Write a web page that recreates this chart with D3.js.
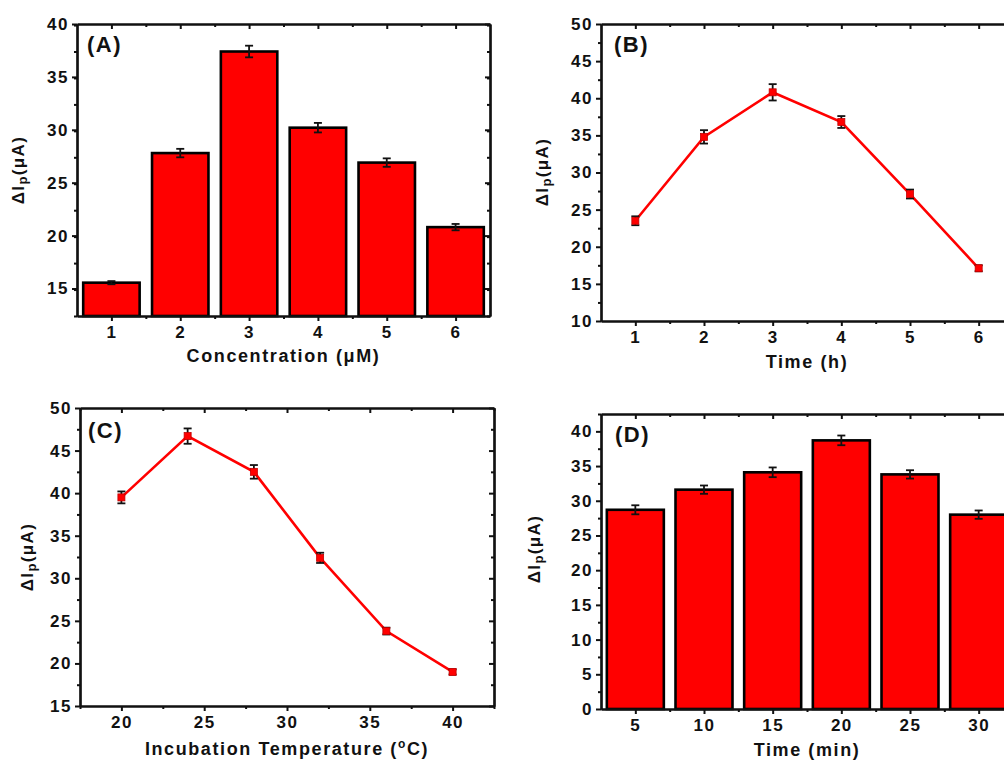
<!DOCTYPE html>
<html>
<head>
<meta charset="utf-8">
<script src="https://cdn.jsdelivr.net/npm/d3@7"></script>
<style>
  html, body { margin: 0; padding: 0; background: #fff; }
  svg { display: block; }
  text { font-family: "Liberation Sans", Arial, sans-serif; font-weight: bold; fill: #111; }
</style>
</head>
<body>
<svg id="chart" width="1004" height="762"></svg>
<script>
// ---------- data ----------
// (A) concentration
const concLabels = ["1", "2", "3", "4", "5", "6"];
const concValues = [15.55, 27.8, 37.4, 30.2, 26.9, 20.8];
const concErrors = [0.15, 0.4, 0.55, 0.45, 0.4, 0.3];
// (B) time (h)
const timeHours = [1, 2, 3, 4, 5, 6];
const timeValues = [23.5, 34.8, 40.8, 36.8, 27.1, 17.1];
const timeErrors = [0.6, 0.9, 1.1, 0.8, 0.6, 0.4];
// (C) incubation temperature
const tempC = [20, 24, 28, 32, 36, 40];
const tempValues = [39.5, 46.7, 42.5, 32.4, 23.8, 19.0];
const tempErrors = [0.7, 0.9, 0.8, 0.6, 0.4, 0.3];
// (D) time (min)
const minLabels = ["5", "10", "15", "20", "25", "30"];
const minValues = [28.7, 31.6, 34.1, 38.7, 33.8, 28.0];
const minErrors = [0.65, 0.6, 0.7, 0.7, 0.6, 0.6];

// tick labels
const yTicksA = [15, 20, 25, 30, 35, 40];
const yTicksB = [10, 15, 20, 25, 30, 35, 40, 45, 50];
const yTicksC = [15, 20, 25, 30, 35, 40, 45, 50];
const yTicksD = [0, 5, 10, 15, 20, 25, 30, 35, 40];
const xTicksC = [20, 25, 30, 35, 40];

const svg = d3.select("#chart");

function range(a, b, step) {
  const out = [];
  for (let v = a; v <= b + 1e-9; v += step) out.push(+v.toFixed(4));
  return out;
}

function panel(cfg) {
  const g = svg.append("g");
  const x = d3.scaleLinear().domain(cfg.xDomain).range([cfg.left, cfg.right]);
  const y = d3.scaleLinear().domain(cfg.yDomain).range([cfg.bottom, cfg.top]);

  // bars
  if (cfg.type === "bar") {
    const bw = x(cfg.barWidth) - x(0);
    g.selectAll("rect.bar").data(cfg.values).enter().append("rect")
      .attr("x", (d, i) => x(cfg.xs[i]) - bw / 2)
      .attr("y", d => y(d))
      .attr("width", bw)
      .attr("height", d => y(cfg.yDomain[0]) - y(d))
      .attr("fill", "#ff0000")
      .attr("stroke", "#000")
      .attr("stroke-width", 2.6);
  } else {
    const line = d3.line().x((d, i) => x(cfg.xs[i])).y(d => y(d));
    g.append("path").datum(cfg.values).attr("d", line)
      .attr("fill", "none").attr("stroke", "#ff0000").attr("stroke-width", 2.6);
  }

  // error bars
  const eb = g.selectAll("g.err").data(cfg.values).enter().append("g");
  eb.append("line")
    .attr("x1", (d, i) => x(cfg.xs[i])).attr("x2", (d, i) => x(cfg.xs[i]))
    .attr("y1", (d, i) => y(d - cfg.errors[i])).attr("y2", (d, i) => y(d + cfg.errors[i]))
    .attr("stroke", "#111").attr("stroke-width", 1.8);
  [-1, 1].forEach(s => {
    eb.append("line")
      .attr("x1", (d, i) => x(cfg.xs[i]) - 4).attr("x2", (d, i) => x(cfg.xs[i]) + 4)
      .attr("y1", (d, i) => y(d + s * cfg.errors[i])).attr("y2", (d, i) => y(d + s * cfg.errors[i]))
      .attr("stroke", "#111").attr("stroke-width", 1.8);
  });

  if (cfg.type === "line") {
    g.selectAll("rect.mk").data(cfg.values).enter().append("rect")
      .attr("x", (d, i) => x(cfg.xs[i]) - 3.5).attr("y", d => y(d) - 3.5)
      .attr("width", 7).attr("height", 7)
      .attr("fill", "#ff0000").attr("stroke", "#c00000").attr("stroke-width", 0.8);
  }

  const axStyle = sel => {
    sel.selectAll("path.domain").attr("stroke", "#111").attr("stroke-width", 2.2);
    sel.selectAll(".tick line").attr("stroke", "#111").attr("stroke-width", 2);
    sel.selectAll(".tick text").attr("font-size", 17).attr("letter-spacing", "1.5px")
      .attr("font-family", "'Liberation Sans', Arial, sans-serif").attr("font-weight", "bold").attr("fill", "#111");
  };

  // minor ticks
  const yMinor = range(cfg.yDomain[0], cfg.yDomain[1], cfg.yMinorStep).filter(v => !cfg.yTicks.includes(v));
  const xMinor = cfg.xMinor;

  // left axis
  g.append("g").attr("transform", `translate(${cfg.left},0)`)
    .call(d3.axisLeft(y).tickValues(yMinor).tickSize(3).tickSizeOuter(0).tickFormat(""))
    .call(axStyle);
  g.append("g").attr("transform", `translate(${cfg.left},0)`)
    .call(d3.axisLeft(y).tickValues(cfg.yTicks).tickSize(5).tickPadding(3).tickSizeOuter(0))
    .call(axStyle);
  // right axis (inward)
  g.append("g").attr("transform", `translate(${cfg.right},0)`)
    .call(d3.axisLeft(y).tickValues(cfg.yTicks).tickSize(5).tickSizeOuter(0).tickFormat(""))
    .call(axStyle);
  g.append("g").attr("transform", `translate(${cfg.right},0)`)
    .call(d3.axisLeft(y).tickValues(yMinor).tickSize(3).tickSizeOuter(0).tickFormat(""))
    .call(axStyle);
  // bottom axis
  g.append("g").attr("transform", `translate(0,${cfg.bottom})`)
    .call(d3.axisBottom(x).tickValues(xMinor).tickSize(3).tickSizeOuter(0).tickFormat(""))
    .call(axStyle);
  g.append("g").attr("transform", `translate(0,${cfg.bottom})`)
    .call(d3.axisBottom(x).tickValues(cfg.xTicks).tickSize(5).tickPadding(5).tickSizeOuter(0)
      .tickFormat((d, i) => cfg.xTickLabels[i]))
    .call(axStyle);
  // top axis (inward)
  g.append("g").attr("transform", `translate(0,${cfg.top})`)
    .call(d3.axisTop(x).tickValues(cfg.xTicks).tickSize(-5).tickSizeOuter(0).tickFormat(""))
    .call(axStyle);
  g.append("g").attr("transform", `translate(0,${cfg.top})`)
    .call(d3.axisTop(x).tickValues(xMinor).tickSize(-3).tickSizeOuter(0).tickFormat(""))
    .call(axStyle);

  // x title
  const xt = g.append("text")
    .attr("x", (cfg.left + cfg.right) / 2).attr("y", cfg.xTitleY)
    .attr("text-anchor", "middle").attr("font-size", 18).attr("letter-spacing", "1.6px");
  cfg.xTitle(xt);

  // y title
  const yt = g.append("text")
    .attr("transform", `translate(${cfg.yTitleX},${cfg.yTitleMid}) rotate(-90)`)
    .attr("text-anchor", "middle").attr("font-size", 17).attr("letter-spacing", "1.4px")
    .attr("font-family", cfg.yTitleFont);
  yt.append("tspan").text("ΔI");
  yt.append("tspan").attr("baseline-shift", "-25%").attr("font-size", 13).text("p");
  yt.append("tspan").text("(μA)");

  // panel label
  g.append("text").attr("x", cfg.labelX).attr("y", cfg.labelY)
    .attr("font-size", 22).attr("letter-spacing", "1.5px")
    .attr("font-family", "'Open Sans', 'Liberation Sans', sans-serif")
    .text(cfg.label);
}

const idx = concLabels.map((d, i) => i + 1);

panel({
  label: "(A)", labelX: 87, labelY: 52,
  type: "bar", xs: idx, values: concValues, errors: concErrors, barWidth: 0.82,
  left: 77, right: 490, top: 24, bottom: 316,
  xDomain: [0.5, 6.5], yDomain: [12.4, 40],
  xTicks: idx, xTickLabels: concLabels, xMinor: range(1.5, 5.5, 1),
  yTicks: yTicksA, yMinorStep: 2.5,
  xTitleY: 362, xTitle: t => t.text("Concentration (μM)"),
  yTitleX: 24, yTitleMid: 170, yTitleFont: "'Liberation Sans', Arial, sans-serif"
});

panel({
  label: "(B)", labelX: 614, labelY: 52,
  type: "line", xs: timeHours, values: timeValues, errors: timeErrors,
  left: 601, right: 1013, top: 24, bottom: 321,
  xDomain: [0.5, 6.5], yDomain: [10, 50],
  xTicks: timeHours, xTickLabels: timeHours.map(String), xMinor: range(1.5, 5.5, 1),
  yTicks: yTicksB, yMinorStep: 2.5,
  xTitleY: 368, xTitle: t => t.text("Time (h)"),
  yTitleX: 548, yTitleMid: 172, yTitleFont: "'Liberation Serif', 'Times New Roman', serif"
});

panel({
  label: "(C)", labelX: 88, labelY: 438,
  type: "line", xs: tempC, values: tempValues, errors: tempErrors,
  left: 80, right: 494, top: 408, bottom: 706,
  xDomain: [17.5, 42.5], yDomain: [15, 50],
  xTicks: xTicksC, xTickLabels: xTicksC.map(String), xMinor: range(17.5, 42.5, 2.5).filter(v => v % 5 !== 0),
  yTicks: yTicksC, yMinorStep: 2.5,
  xTitleY: 755, xTitle: t => {
    t.append("tspan").text("Incubation Temperature (");
    t.append("tspan").attr("baseline-shift", "super").attr("font-size", 12).text("o");
    t.append("tspan").text("C)");
  },
  yTitleX: 33, yTitleMid: 557, yTitleFont: "'Liberation Sans', Arial, sans-serif"
});

panel({
  label: "(D)", labelX: 615, labelY: 442,
  type: "bar", xs: idx, values: minValues, errors: minErrors, barWidth: 0.83,
  left: 601, right: 1013, top: 414, bottom: 709,
  xDomain: [0.5, 6.5], yDomain: [0, 42.5],
  xTicks: idx, xTickLabels: minLabels, xMinor: range(1.5, 5.5, 1),
  yTicks: yTicksD, yMinorStep: 2.5,
  xTitleY: 756, xTitle: t => t.text("Time (min)"),
  yTitleX: 540, yTitleMid: 549, yTitleFont: "'Liberation Sans', Arial, sans-serif"
});
</script>
</body>
</html>
